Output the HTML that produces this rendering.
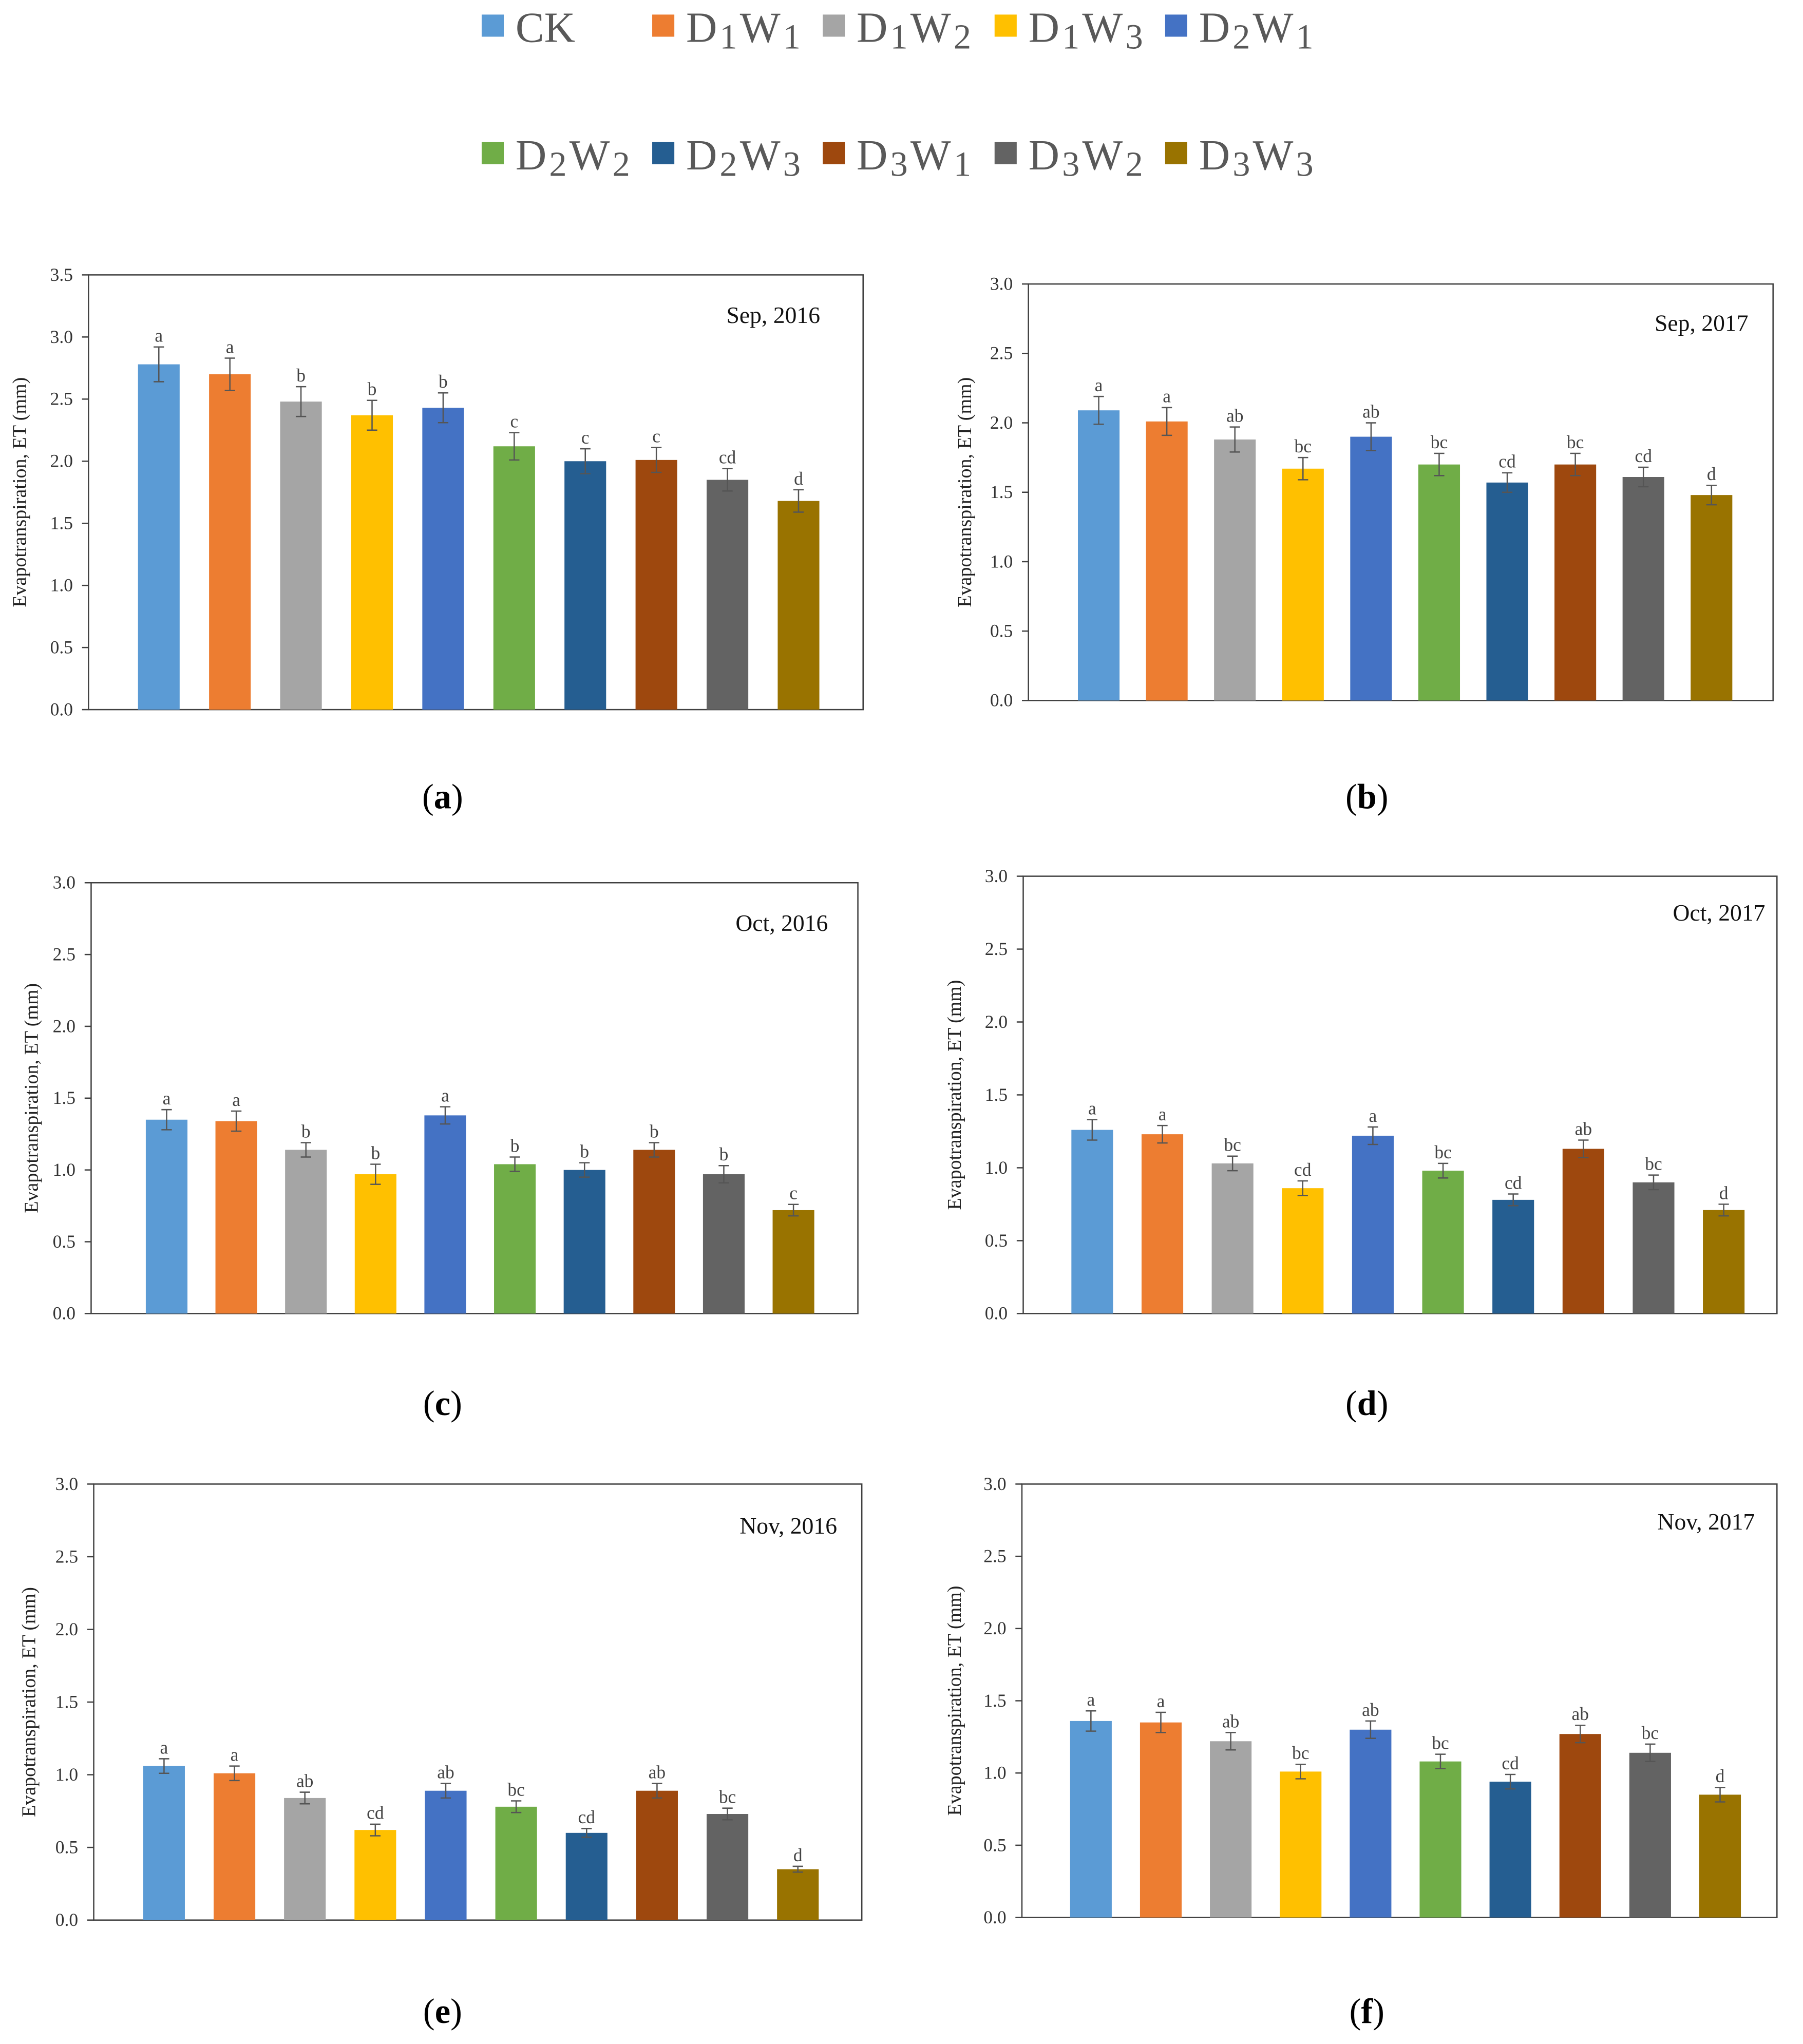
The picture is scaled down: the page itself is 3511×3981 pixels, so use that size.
<!DOCTYPE html>
<html><head><meta charset="utf-8">
<style>
html,body{margin:0;padding:0;background:#fff;}
svg{display:block;}
</style></head>
<body>
<svg id="fig" xmlns="http://www.w3.org/2000/svg" width="3511" height="3981" viewBox="0 0 1385 1570" font-family="'Liberation Serif', serif">
<g id="legend"></g>
<g id="panels"></g>
</svg>
<script>
const categories = ["CK","D1W1","D1W2","D1W3","D2W1","D2W2","D2W3","D3W1","D3W2","D3W3"];
const colors = ["#5B9BD5","#ED7D31","#A5A5A5","#FFC000","#4472C4","#70AD47","#255E91","#9E480E","#636363","#997300"];
const valuesA = [2.78,2.70,2.48,2.37,2.43,2.12,2.00,2.01,1.85,1.68];
const errA = [0.14,0.13,0.12,0.12,0.12,0.11,0.10,0.10,0.09,0.09];
const lettersA = ["a","a","b","b","b","c","c","c","cd","d"];
const valuesB = [2.09,2.01,1.88,1.67,1.90,1.70,1.57,1.70,1.61,1.48];
const errB = [0.10,0.10,0.09,0.08,0.10,0.08,0.07,0.08,0.07,0.07];
const lettersB = ["a","a","ab","bc","ab","bc","cd","bc","cd","d"];
const valuesC = [1.35,1.34,1.14,0.97,1.38,1.04,1.00,1.14,0.97,0.72];
const errC = [0.07,0.07,0.05,0.07,0.06,0.05,0.05,0.05,0.06,0.04];
const lettersC = ["a","a","b","b","a","b","b","b","b","c"];
const valuesD = [1.26,1.23,1.03,0.86,1.22,0.98,0.78,1.13,0.90,0.71];
const errD = [0.07,0.06,0.05,0.05,0.06,0.05,0.04,0.06,0.05,0.04];
const lettersD = ["a","a","bc","cd","a","bc","cd","ab","bc","d"];
const valuesE = [1.06,1.01,0.84,0.62,0.89,0.78,0.60,0.89,0.73,0.35];
const errE = [0.05,0.05,0.04,0.04,0.05,0.04,0.03,0.05,0.04,0.02];
const lettersE = ["a","a","ab","cd","ab","bc","cd","ab","bc","d"];
const valuesF = [1.36,1.35,1.22,1.01,1.30,1.08,0.94,1.27,1.14,0.85];
const errF = [0.07,0.07,0.06,0.05,0.06,0.05,0.05,0.06,0.06,0.05];
const lettersF = ["a","a","ab","bc","ab","bc","cd","ab","bc","d"];
const ticksA = ["0.0","0.5","1.0","1.5","2.0","2.5","3.0","3.5"];
const ticksOther = ["0.0","0.5","1.0","1.5","2.0","2.5","3.0"];

const NS="http://www.w3.org/2000/svg";
function mk(tag, attrs, parent){const e=document.createElementNS(NS,tag);for(const k in attrs)e.setAttribute(k,attrs[k]);parent.appendChild(e);return e;}

const leg=document.getElementById('legend');
const legX=[370,501,632,764,895];
categories.forEach((c,i)=>{
  const row=Math.floor(i/5), col=i%5;
  const y=row?118:20;
  const g=mk('g',{},leg);
  
  
  mk('rect',{x:legX[col],y:y-9,width:17,height:17,fill:colors[i]},g);
  const t=mk('text',{x:legX[col]+26,y:y+12,'font-size':33,fill:'#595959'},g);
  if(c==="CK"){t.textContent="CK";}
  else{
    const parts=[["D",0],[c[1],1],["W",0],[c[3],1]];
    parts.forEach(p=>{const s=mk('tspan',{},t);s.textContent=p[0];if(p[1]){s.setAttribute('font-size',27);s.setAttribute('dy',5);s.setAttribute('dx',2);}else if(s.previousSibling){s.setAttribute('dy',-5);s.setAttribute('dx',2);}});
  }
});

const panels=[
 {id:'a',vals:valuesA,err:errA,let:lettersA,ticks:ticksA,ymax:3.5,L:68,R:663,T:211,B:545,cx:122,dx:54.6,title:"Sep, 2016",tx:630,ty:248,yl:15,px:340,py:612},
 {id:'b',vals:valuesB,err:errB,let:lettersB,ticks:ticksOther,ymax:3.0,L:790,R:1362,T:218,B:538,cx:844,dx:52.3,title:"Sep, 2017",tx:1343,ty:254,yl:741,px:1050,py:612},
 {id:'c',vals:valuesC,err:errC,let:lettersC,ticks:ticksOther,ymax:3.0,L:70,R:659,T:678,B:1009,cx:128,dx:53.5,title:"Oct, 2016",tx:636,ty:715,yl:24,px:340,py:1078},
 {id:'d',vals:valuesD,err:errD,let:lettersD,ticks:ticksOther,ymax:3.0,L:786,R:1365,T:673,B:1009,cx:839,dx:53.9,title:"Oct, 2017",tx:1356,ty:707,yl:733,px:1050,py:1078},
 {id:'e',vals:valuesE,err:errE,let:lettersE,ticks:ticksOther,ymax:3.0,L:72,R:662,T:1140,B:1475,cx:126,dx:54.1,title:"Nov, 2016",tx:643,ty:1178,yl:22,px:340,py:1545},
 {id:'f',vals:valuesF,err:errF,let:lettersF,ticks:ticksOther,ymax:3.0,L:785,R:1365,T:1140,B:1473,cx:838,dx:53.7,title:"Nov, 2017",tx:1348,ty:1175,yl:733,px:1050,py:1545}
];
const root=document.getElementById('panels');
panels.forEach(p=>{
  const g=mk('g',{},root);
  
  
  const yS=v=>p.B-(v/p.ymax)*(p.B-p.T);
  const xS=i=>p.cx+i*p.dx;
  const frame=mk('rect',{x:p.L,y:p.T,width:p.R-p.L,height:p.B-p.T,fill:'none',stroke:'#404040','stroke-width':1},g);
  
  
  p.ticks.forEach(t=>{
    const v=parseFloat(t), y=yS(v);
    mk('line',{x1:p.L-5,x2:p.L,y1:y,y2:y,stroke:'#404040'},g);
    const tx=mk('text',{x:p.L-12,y:y+4.5,'font-size':14,'text-anchor':'end',fill:'#333'},g);
    tx.textContent=t;
    
    
  });
  const yl=mk('text',{x:0,y:0,'font-size':15,'text-anchor':'middle',fill:'#222',transform:`translate(${p.yl+5},${(p.T+p.B)/2}) rotate(-90)`},g);
  yl.textContent="Evapotranspiration, ET (mm)";
  
  
  p.vals.forEach((v,i)=>{
    const x=xS(i), w=32;
    const b=mk('rect',{x:x-w/2,y:yS(v),width:w,height:p.B-yS(v),fill:colors[i]},g);
    
    
    const e=p.err[i], yt=yS(v+e), yb=yS(v-e);
    mk('line',{x1:x,x2:x,y1:yt,y2:yb,stroke:'#555','stroke-width':1},g);
    mk('line',{x1:x-4,x2:x+4,y1:yt,y2:yt,stroke:'#555','stroke-width':1},g);
    mk('line',{x1:x-4,x2:x+4,y1:yb,y2:yb,stroke:'#555','stroke-width':1},g);
    const lt=mk('text',{x:x,y:yt-4,'font-size':14,'text-anchor':'middle',fill:'#444'},g);
    lt.textContent=p.let[i];
    
    
  });
  const tt=mk('text',{x:p.tx,y:p.ty,'font-size':18,'text-anchor':'end',fill:'#111'},g);
  tt.textContent=p.title;
  
  
  const pl=mk('text',{x:p.px,y:p.py+9,'font-size':27,'text-anchor':'middle',fill:'#000'},g);
  
  
  const s1=mk('tspan',{},pl);s1.textContent="(";
  const s2=mk('tspan',{'font-weight':'bold'},pl);s2.textContent=p.id;
  const s3=mk('tspan',{},pl);s3.textContent=")";
});
</script>
</body></html>
